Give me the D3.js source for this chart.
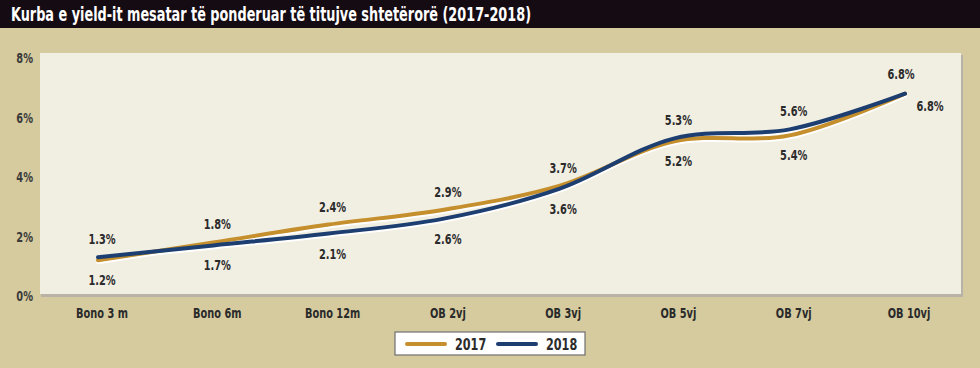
<!DOCTYPE html>
<html lang="sq">
<head>
<meta charset="UTF-8">
<title>Kurba e yield-it</title>
<style>
    body { margin: 0; background: #d5cb9f; }
    svg { display: block; }
    text { font-family: "DejaVu Sans Condensed", "Liberation Sans", sans-serif; font-weight: bold; }
</style>
</head>
<body>
<script src="https://cdnjs.cloudflare.com/ajax/libs/d3/7.8.2/d3.min.js"></script>
<script>

    const kategorite = ["Bono 3 m", "Bono 6m", "Bono 12m", "OB 2vj", "OB 3vj", "OB 5vj", "OB 7vj", "OB 10vj"]
    const vlera2017 = [1.2, 1.8, 2.4, 2.9, 3.7, 5.2, 5.4, 6.8]
    const vlera2018 = [1.3, 1.7, 2.1, 2.6, 3.6, 5.3, 5.6, 6.8]
    const tickY = [0, 2, 4, 6, 8]

    const w = 980
    const h = 368
    const ngushtim = 0.78  // tekst i ngushtuar si ne origjinal

    const svg = d3.select("body")
        .append("svg")
            .attr("width", w)
            .attr("height", h)

    // sfondi
    svg.append("rect").attr("width", w).attr("height", h).attr("fill", "#d5cb9f")
    svg.append("rect").attr("width", w).attr("height", 28).attr("fill", "#150b12")
    svg.append("text")
        .attr("x", 11).attr("y", 21)
        .attr("fill", "#fff")
        .attr("font-size", 19)
        .attr("textLength", 520)
        .attr("lengthAdjust", "spacingAndGlyphs")
        .text("Kurba e yield-it mesatar të ponderuar të titujve shtetërorë (2017-2018)")

    // paneli
    svg.append("rect").attr("x", 41).attr("y", 55).attr("width", 922).attr("height", 242).attr("fill", "#b8b3a6")
    svg.append("rect").attr("x", 40).attr("y", 53).attr("width", 921).attr("height", 241).attr("fill", "#f1eee2")

    const x = d3.scalePoint()
        .domain(kategorite)
        .range([98, 905])

    const y = d3.scaleLinear()
        .domain([0, 8])
        .range([296, 58])

    // boshti y
    svg.selectAll(".ty")
        .data(tickY)
        .enter()
        .append("text")
            .attr("transform", d => `translate(33,${y(d) + 5}) scale(${ngushtim},1)`)
            .attr("text-anchor", "end")
            .attr("font-size", 14)
            .attr("fill", "#3a3a3a")
            .text(d => d + "%")

    // boshti x
    svg.selectAll(".tx")
        .data(kategorite)
        .enter()
        .append("text")
            .attr("transform", d => `translate(${x(d) + 4},318) scale(${ngushtim},1)`)
            .attr("text-anchor", "middle")
            .attr("font-size", 14)
            .attr("fill", "#2a2a2a")
            .text(d => d)

    const seri = [
        { emri: "2017", vlera: vlera2017, ngjyra: "#c48f2c" },
        { emri: "2018", vlera: vlera2018, ngjyra: "#1d3e70" }
    ]

    const vija = d3.line()
        .x((d, i) => x(kategorite[i]))
        .y(d => y(d))
        .curve(d3.curveCatmullRom.alpha(0.5))

    // hijet e bardha
    svg.selectAll(".halo")
        .data(seri)
        .enter()
        .append("path")
            .attr("d", d => vija(d.vlera))
            .attr("transform", "translate(0,2)")
            .attr("fill", "none")
            .attr("stroke", "#ffffff")
            .attr("stroke-width", 4)
            .attr("stroke-linecap", "round")

    svg.selectAll(".vija")
        .data(seri)
        .enter()
        .append("path")
            .attr("d", d => vija(d.vlera))
            .attr("fill", "none")
            .attr("stroke", d => d.ngjyra)
            .attr("stroke-width", 4)
            .attr("stroke-linecap", "round")

    // etiketat e vlerave
    const etiketat = []
    kategorite.forEach((k, i) => {
        const a = vlera2017[i], b = vlera2018[i]
        const lart = Math.max(a, b), poshte = Math.min(a, b)
        if (i === kategorite.length - 1) {
            etiketat.push({ x: x(k) - 4, y: y(lart) - 20, v: lart })
            etiketat.push({ x: x(k) + 25, y: y(poshte) + 12, v: poshte })
        } else {
            etiketat.push({ x: x(k) + 4, y: y(lart) - 18, v: lart })
            etiketat.push({ x: x(k) + 4, y: y(poshte) + 20, v: poshte })
        }
    })

    svg.selectAll(".et")
        .data(etiketat)
        .enter()
        .append("text")
            .attr("transform", d => `translate(${d.x},${d.y + 5}) scale(${ngushtim},1)`)
            .attr("text-anchor", "middle")
            .attr("font-size", 14)
            .attr("fill", "#2b2b2b")
            .text(d => d.v.toFixed(1) + "%")

    // legjenda
    const leg = svg.append("g").attr("transform", "translate(395,332)")
    leg.append("rect")
        .attr("width", 190).attr("height", 23)
        .attr("fill", "#ffffff")
        .attr("stroke", "#6f6f6f")
        .attr("stroke-width", 1.2)
    seri.forEach((s, i) => {
        const g = leg.append("g").attr("transform", `translate(${12 + i * 91},0)`)
        g.append("line")
            .attr("x1", 0).attr("x2", 38)
            .attr("y1", 12).attr("y2", 12)
            .attr("stroke", s.ngjyra)
            .attr("stroke-width", 4)
            .attr("stroke-linecap", "round")
        g.append("text")
            .attr("transform", `translate(48,18) scale(${ngushtim},1)`)
            .attr("font-size", 16)
            .attr("fill", "#2b2b2b")
            .text(s.emri)
    })

</script>
</body>
</html>
